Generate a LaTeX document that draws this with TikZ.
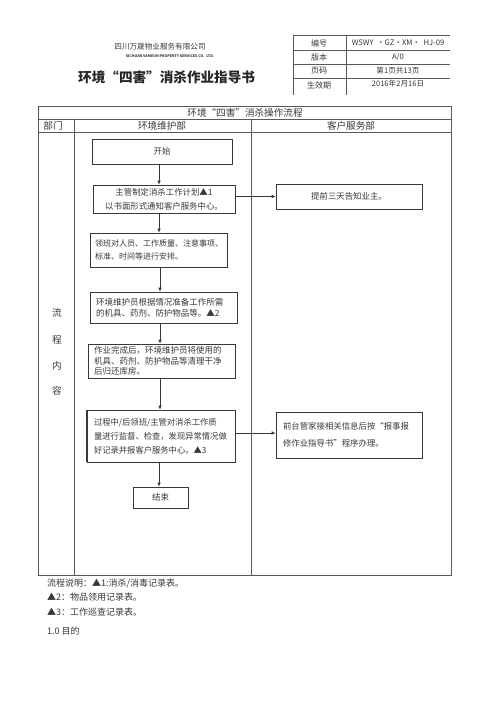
\documentclass[tikz,border=0pt]{standalone}
\usepackage{fontspec}
\setmainfont{Noto Sans CJK SC}
\usetikzlibrary{arrows.meta}
\definecolor{ink}{gray}{0.22}
\definecolor{rule}{gray}{0.35}
\tikzset{
  tline/.style={draw=rule, line width=0.6pt},
  flowbox/.style={draw=ink, line width=0.7pt, fill=white, inner sep=2pt, text=ink,
     font=\fontsize{8.4}{13}\selectfont},
  flowshadow/.style={draw=ink, line width=1.1pt},
  arr/.style={draw=ink, line width=0.7pt, -{Latex[length=4pt,width=3.6pt]}},
  lbl/.style={text=ink, inner sep=0pt},
}
\begin{document}
\begin{tikzpicture}[x=1pt,y=-1pt]
\useasboundingbox[fill=white] (0,0) rectangle (500,707);

% header
\node[lbl, font=\fontsize{7.6}{8}\selectfont] (company) at (160,47) {四川万晟物业服务有限公司};
\node[lbl, font=\fontsize{3.6}{4}\selectfont\bfseries] (companyen) at (170,56) {SICHUAN VAMEUN PROPERTY SERVICES CO.\ \ LTD.};
\node[lbl, font=\fontsize{13.6}{15}\selectfont\bfseries, anchor=west, text=black!85] (title) at (78,77) {环境“四害”消杀作业指导书};

% top right table
\draw[tline] (293,35) -- (450,35);
\draw[tline] (293,50) -- (450,50);
\draw[tline] (293,64) -- (450,64);
\draw[tline] (293,78) -- (450,78);
\draw[tline] (293,35) -- (293,95);
\draw[tline] (346,35) -- (346,95);
\node[lbl, font=\fontsize{8}{9}\selectfont] (k1) at (319,43) {编号};
\node[lbl, font=\fontsize{8}{9}\selectfont] (k2) at (319,57) {版本};
\node[lbl, font=\fontsize{8}{9}\selectfont] (k3) at (319,71) {页码};
\node[lbl, font=\fontsize{8}{9}\selectfont] (k4) at (319,85) {生效期};
\node[lbl, font=\fontsize{7.6}{9}\selectfont] (v1) at (398,43) {WSWY\ \ ·GZ·XM·\ \ HJ-09};
\node[lbl, font=\fontsize{7.6}{9}\selectfont] (v2) at (398,57) {A/0};
\node[lbl, font=\fontsize{7.6}{9}\selectfont] (v3) at (398,71) {第1页共13页};
\node[lbl, font=\fontsize{7.6}{9}\selectfont] (v4) at (398,84) {2016年2月16日};

% main table
\draw[tline] (38,106) rectangle (451,575);
\draw[tline] (38,119) -- (451,119);
\draw[tline] (38,132) -- (451,132);
\draw[tline] (74,119) -- (74,575);
\draw[tline] (251,119) -- (251,575);
\node[lbl, font=\fontsize{9.6}{10}\selectfont] (ttl) at (245,113) {环境“四害”消杀操作流程};
\node[lbl, font=\fontsize{9.6}{10}\selectfont] (h1) at (53,126) {部门};
\node[lbl, font=\fontsize{9.6}{10}\selectfont] (h2) at (162,126) {环境维护部};
\node[lbl, font=\fontsize{9.6}{10}\selectfont] (h3) at (351,126) {客户服务部};
\node[lbl, font=\fontsize{9.6}{10}\selectfont] (s1) at (57,313) {流};
\node[lbl, font=\fontsize{9.6}{10}\selectfont] (s2) at (57,340) {程};
\node[lbl, font=\fontsize{9.6}{10}\selectfont] (s3) at (57,366) {内};
\node[lbl, font=\fontsize{9.6}{10}\selectfont] (s4) at (57,391) {容};

% flow boxes (left)
\node[flowbox, minimum width=140pt, minimum height=25pt] (start) at (162,151.5) {开始};
\node[flowbox, text width=138pt, minimum height=28pt, align=center,
      font=\fontsize{8.4}{14}\selectfont] (b2) at (164,199)
  {主管制定消杀工作计划▲1\\以书面形式通知客户服务中心。};
\node[flowbox, text width=133pt, inner xsep=2pt, minimum height=34pt, align=left,
      font=\fontsize{8}{13}\selectfont] (b3) at (158.5,250)
  {\hspace*{3pt}领班对人员、工作质量、注意事项、\\\hspace*{3pt}标准、时间等进行安排。};
\node[flowbox, text width=143pt, minimum height=31pt, align=left,
      font=\fontsize{8.5}{11}\selectfont] (b4) at (163.5,307.5)
  {\hspace*{4pt}环境维护员根据情况准备工作所需\\\hspace*{4pt}的机具、药剂、防护物品等。▲2};
\node[flowbox, text width=143pt, minimum height=34pt, align=left,
      font=\fontsize{8.5}{10.5}\selectfont] (b5) at (161.5,361)
  {\hspace*{4pt}作业完成后，环境维护员将使用的\\\hspace*{4pt}机具、药剂、防护物品等清理干净\\\hspace*{4pt}后归还库房。};
\node[flowbox, text width=144pt, minimum height=52pt, align=left,
      font=\fontsize{8.3}{14}\selectfont] (b6) at (161,436)
  {\hspace*{5pt}过程中/后领班/主管对消杀工作质\\\hspace*{5pt}量进行监督、检查，发现异常情况做\\\hspace*{5pt}好记录并报客户服务中心。▲3};
\node[flowbox, minimum width=55pt, minimum height=21pt] (fin) at (160.5,497.5) {结束};

% flow boxes (right)
\node[flowbox, minimum width=146pt, minimum height=25pt] (r1) at (349,196.5) {提前三天告知业主。};
\node[flowbox, text width=142pt, minimum height=46pt, align=left,
      font=\fontsize{8.4}{17}\selectfont] (r2) at (349,435)
  {\hspace*{5pt}前台管家接相关信息后按“报事报\\\hspace*{5pt}修作业指导书”程序办理。};

% box shadows (thicker edges)
\draw[flowshadow] (start.north east) -- (start.south east);
\draw[flowshadow] (b2.north east) -- (b2.south east);
\draw[flowshadow] (b6.north west) -- (b6.south west);

% arrows
\coordinate (ax) at (159,0);
\coordinate (bx) at (160,0);
\draw[arr] (ax |- start.south) -- (ax |- b2.north);
\draw[arr] (ax |- b2.south) -- (ax |- b3.north);
\draw[arr] (bx |- b3.south) -- (bx |- b4.north);
\draw[arr] (bx |- b4.south) -- (bx |- b5.north);
\draw[arr] (bx |- b5.south) -- (bx |- b6.north);
\draw[arr] (ax |- b6.south) -- (ax |- fin.north);
\draw[arr] (b2.east |- r1.west) -- (r1.west);
\coordinate (ay) at (0,433);
\draw[arr] (b6.east |- ay) -- (r2.west |- ay);

% notes
\node[lbl, anchor=west, font=\fontsize{9}{10}\selectfont] (n1) at (47,584) {流程说明：▲1:消杀/消毒记录表。};
\node[lbl, anchor=west, font=\fontsize{9}{10}\selectfont] (n2) at (47,597) {▲2：物品领用记录表。};
\node[lbl, anchor=west, font=\fontsize{9}{10}\selectfont] (n3) at (47,612) {▲3：工作巡查记录表。};
\node[lbl, anchor=west, font=\fontsize{9}{10}\selectfont] (n4) at (47,631) {1.0 目的};
\end{tikzpicture}
\end{document}
